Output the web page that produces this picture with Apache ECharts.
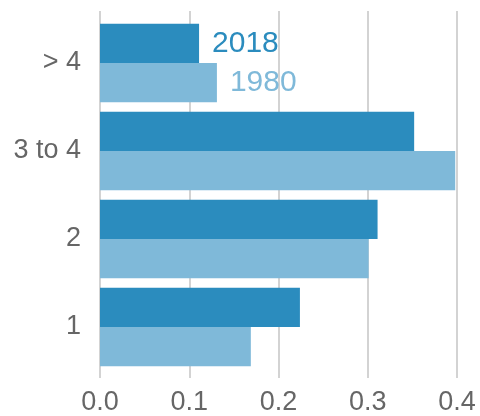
<!DOCTYPE html>
<html>
<head>
<meta charset="utf-8">
<script src="https://cdn.jsdelivr.net/npm/echarts@6/dist/echarts.min.js"></script>
<style>
  html, body { margin: 0; padding: 0; background: #fff; }
  #main { width: 480px; height: 416px; }
</style>
</head>
<body>
<div id="main"></div>
<script>
// categories, bottom to top
var categories = ['1', '2', '3 to 4', '> 4'];
var values2018 = [0.224, 0.311, 0.352, 0.111];
var values1980 = [0.169, 0.301, 0.398, 0.131];
var xTicks = [0, 0.1, 0.2, 0.3, 0.4];

var labelCat = '> 4';
var font = 'Liberation Sans, Arial, sans-serif';

function makeData(values, name, color) {
  return values.map(function (v, i) {
    if (categories[i] !== labelCat) return v;
    return {
      value: v,
      label: {
        show: true, position: 'right', distance: 13,
        formatter: name, color: color, fontSize: 30, fontFamily: font
      }
    };
  });
}

var myChart = echarts.init(document.getElementById('main'));
var option = {
  animation: false,
  grid: [
    { left: 100, right: 23, top: 19, bottom: 45 },
    { left: 100, right: 23, top: 11, bottom: 38 }
  ],
  xAxis: [
    { gridIndex: 0, type: 'value', min: xTicks[0], max: xTicks[xTicks.length - 1], interval: 0.1, show: false },
    {
      gridIndex: 1, type: 'value', min: xTicks[0], max: xTicks[xTicks.length - 1], interval: 0.1,
      axisLine: { show: false }, axisTick: { show: false },
      splitLine: { show: true, lineStyle: { color: '#c4c4c4', width: 1.5 } },
      axisLabel: {
        color: '#666', fontSize: 27, fontFamily: font, margin: 11,
        formatter: function (v) { return v.toFixed(1); }
      }
    }
  ],
  yAxis: [
    {
      gridIndex: 0, type: 'category', data: categories,
      axisLine: { show: false }, axisTick: { show: false },
      axisLabel: { color: '#666', fontSize: 27, fontFamily: font, margin: 19, padding: [4, 0, 0, 0] }
    },
    { gridIndex: 1, type: 'value', show: false }
  ],
  series: [
    {
      name: '2018', type: 'bar', xAxisIndex: 0, yAxisIndex: 0,
      barGap: '0%', barCategoryGap: '11%',
      itemStyle: { color: '#2b8cbe' },
      data: makeData(values2018, '2018', '#2b8cbe')
    },
    {
      name: '1980', type: 'bar', xAxisIndex: 0, yAxisIndex: 0,
      barGap: '0%', barCategoryGap: '11%',
      itemStyle: { color: '#7fb9d9' },
      data: makeData(values1980, '1980', '#7fb9d9')
    }
  ]
};
myChart.setOption(option);
</script>
</body>
</html>
